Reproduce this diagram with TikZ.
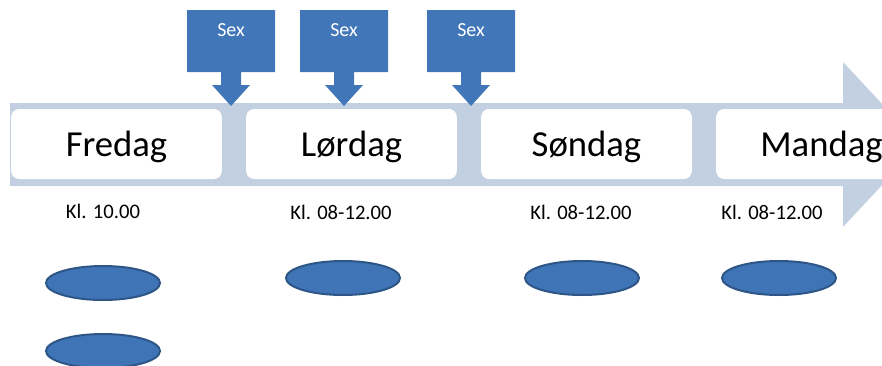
\documentclass[tikz,border=0pt]{standalone}
\usepackage{fontspec}
\setmainfont{Carlito}
\usepackage{tikz}
\usetikzlibrary{shapes.geometric}
\definecolor{bandblue}{RGB}{195,208,226}
\definecolor{calloutblue}{RGB}{65,119,185}
\definecolor{ovalblue}{RGB}{63,117,182}
\definecolor{ovalborder}{RGB}{45,86,135}
\tikzstyle{daybox}    = [fill=white,rounded corners=6pt,minimum width=158pt,minimum height=52.5pt,inner sep=0pt,text depth=0pt,font=\fontsize{27.5}{33}\selectfont]
\tikzstyle{timelabel} = [inner sep=0pt,font=\fontsize{15.5}{18}\selectfont]
\tikzstyle{sexlabel}  = [text=white,inner sep=0pt,font=\fontsize{15}{18}\selectfont]
\tikzstyle{oval}      = [ellipse,fill=ovalblue,draw=ovalborder,line width=1.5pt,minimum width=85.5pt,minimum height=25.5pt,inner sep=0pt]

\begin{document}
\begin{tikzpicture}[x=0.75pt,y=-0.75pt]
  \useasboundingbox (0,0) rectangle (882,365);
  \clip (0,0) rectangle (882,365);

  %the big arrow behind the days
  \fill[bandblue] (10,103) -- (843,103) -- (843,62) -- (920,144.5) -- (843,227) -- (843,186) -- (10,186) -- cycle;

  %put the days on the arrow
  \foreach \day[count=\i] in {Fredag,Lørdag,Søndag,Mandag}{
    \node[daybox] (d\i) at (116.5+235*\i-235,144) {\day};
  }

  %times under the days
  \node[timelabel] (t1) at (103,211) {Kl. 10.00};
  \foreach \x[count=\i from 2] in {341,581,772}{
    \node[timelabel] (t\i) at (\x,212) {Kl. 08-12.00};
  }

  %callouts pointing down on the arrow
  \foreach \x[count=\i] in {231,344,471}{
    \fill[calloutblue] (\x-44,10) -- (\x+44,10) -- (\x+44,72) -- (\x+10,72) -- (\x+10,85) -- (\x+19,85)
      -- (\x,106) -- (\x-19,85) -- (\x-10,85) -- (\x-10,72) -- (\x-44,72) -- cycle;
    \node[sexlabel] (s\i) at (\x,30.5) {Sex};
  }

  %ovals at the bottom
  \node[oval] (o1) at (103,283) {};
  \node[oval] (o2) at (103,351) {};
  \node[oval] (o3) at (343,278) {};
  \node[oval] (o4) at (582,278) {};
  \node[oval] (o5) at (779,278) {};
\end{tikzpicture}
\end{document}
